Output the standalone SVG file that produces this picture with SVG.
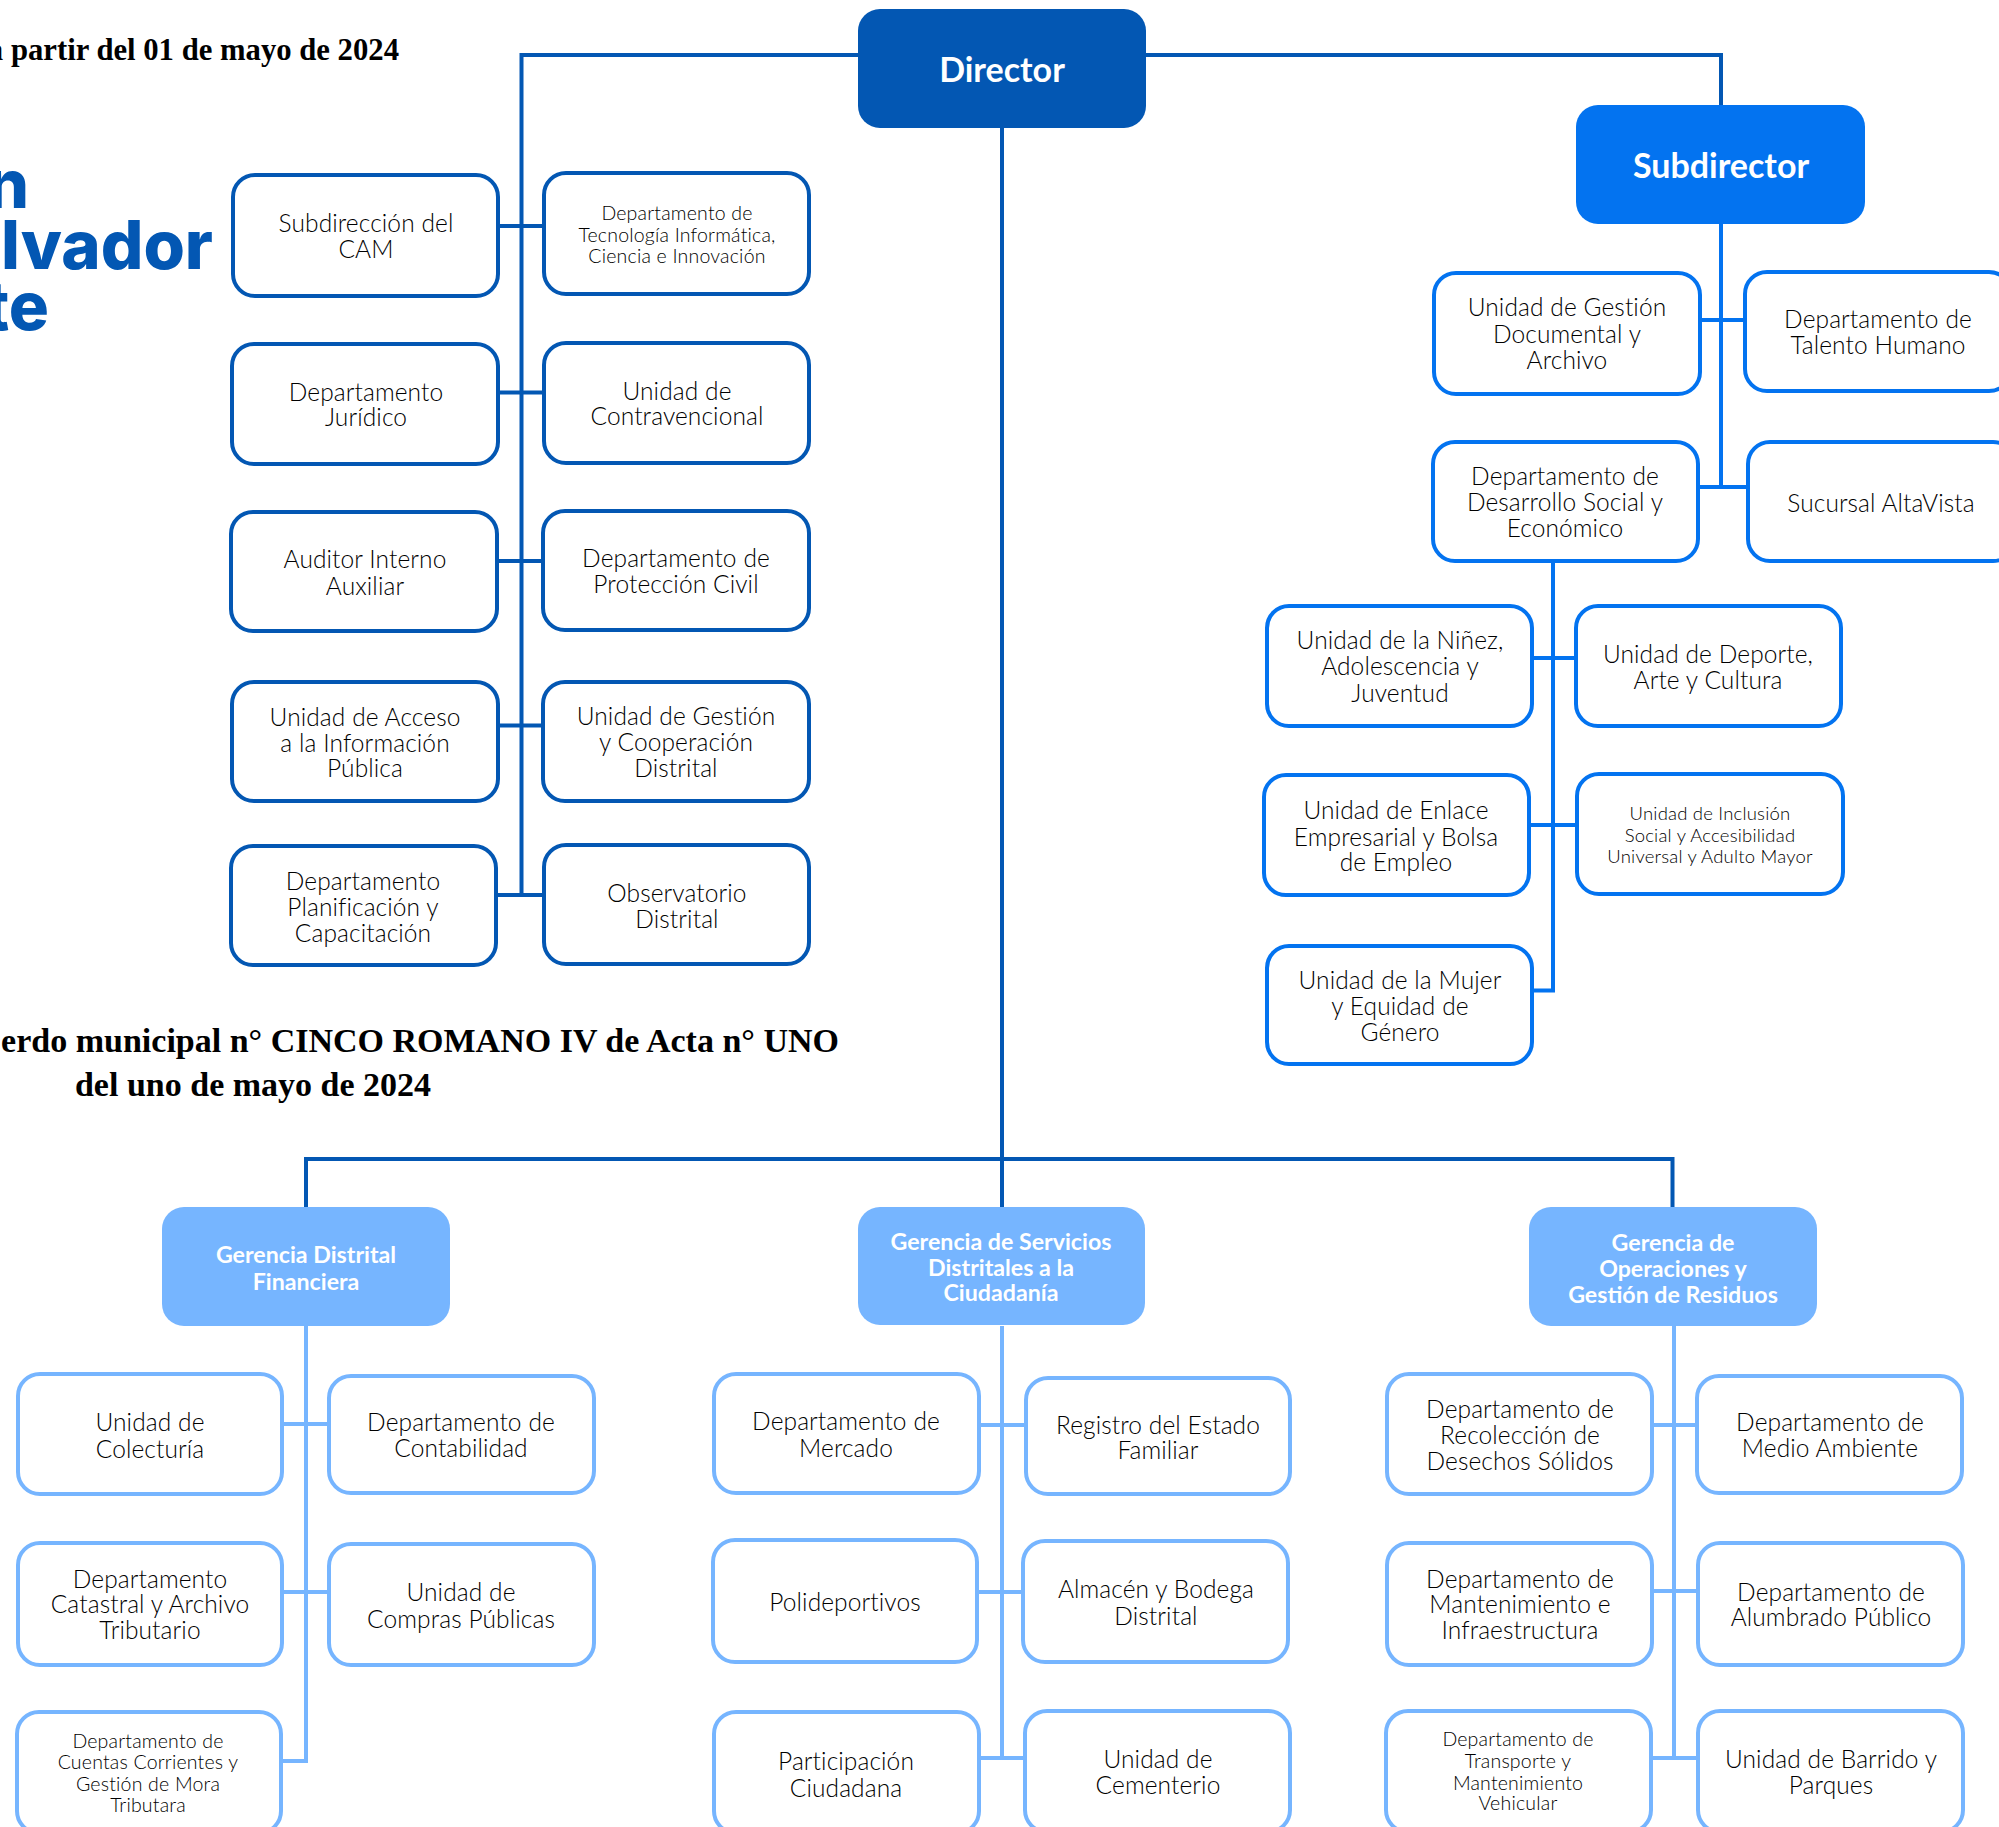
<svg xmlns="http://www.w3.org/2000/svg" width="1999" height="1827" viewBox="0 0 1999 1827">
<style>
text{font-family:"Lato","Noto Sans",sans-serif;text-anchor:middle;fill:#000;font-size:24.5px;font-weight:300;letter-spacing:.1px;transform:translateY(1px)}
.s{font-size:19.5px;letter-spacing:.2px}
.xs{font-size:18.5px}
.hd{font-family:"Liberation Serif",serif;font-weight:700;fill:#000;font-size:30.7px;letter-spacing:0}
.hd2{font-size:34px}
.logo{font-family:"Inter",sans-serif;font-weight:800;fill:#0357b3;font-size:67px;text-anchor:end;letter-spacing:0}
.w{fill:#fff;font-weight:700;letter-spacing:0}
.big{font-size:34px}
.g{font-size:23.2px}
.n{fill:#fff;stroke-width:4}
.d rect{stroke:#0357b3}
.b rect{stroke:#0373f0}
.l rect{stroke:#76b5ff}
.r{rx:22px;ry:22px}
#connectors path{fill:none;stroke-width:4}
</style>
<rect width="1999" height="1827" fill="#fff"/>
<text class="hd" x="399" y="59" style="text-anchor:end">a partir del 01 de mayo de 2024</text>
<text class="logo" x="29" y="207">n</text>
<text class="logo" x="213" y="268">lvador</text>
<text class="logo" x="49" y="329">te</text>
<text class="hd hd2" x="839" y="1051" style="text-anchor:end">erdo municipal n° CINCO ROMANO IV de Acta n° UNO</text>
<text class="hd hd2" x="253" y="1095">del uno de mayo de 2024</text>
<g id="connectors">
<path stroke="#0357b3" d="M858 55H521.5V895M1146 55H1721V105M1002 128V1208M306 1208V1159H1672.5V1208M498 226H544M498 392.500H544M497 561H543M497 725.500H543M496 895H544"/>
<path stroke="#0373f0" d="M1721 224V487M1700 320H1745M1698 487H1748M1553 561V990.500H1532M1532 658H1576M1529 825H1577"/>
<path stroke="#76b5ff" d="M306 1326V1761H281M282 1424H329M282 1592H329M1002 1326V1758M979 1425H1026M977 1592H1023M979 1758H1025M1674 1326V1758M1652 1425H1697M1652 1591H1698M1651 1758H1698"/>
</g>
<g id="director"><rect class="r" x="858" y="9" width="288" height="119" fill="#0357b3"/><text class="w big" x="1002" y="81">Director</text></g>
<g id="subdirector"><rect class="r" x="1576" y="105" width="289" height="119" fill="#0373f0"/><text class="w big" x="1721" y="177">Subdirector</text></g>
<g id="ger-financiera"><rect class="r" x="162" y="1207" width="288" height="119" fill="#76b5ff"/><text class="w g" x="306"><tspan x="306" y="1262">Gerencia Distrital</tspan><tspan x="306" y="1289">Financiera</tspan></text></g>
<g id="ger-servicios"><rect class="r" x="858" y="1207" width="287" height="118" fill="#76b5ff"/><text class="w g"><tspan x="1001" y="1249">Gerencia de Servicios</tspan><tspan x="1001" y="1275">Distritales a la</tspan><tspan x="1001" y="1300">Ciudadanía</tspan></text></g>
<g id="ger-operaciones"><rect class="r" x="1529" y="1207" width="288" height="119" fill="#76b5ff"/><text class="w g"><tspan x="1673" y="1250">Gerencia de</tspan><tspan x="1673" y="1276">Operaciones y</tspan><tspan x="1673" y="1302">Gestión de Residuos</tspan></text></g>
<g class="d">
<g id="n-subcam"><rect class="n r" x="233" y="175" width="265" height="121"/><text><tspan x="366" y="231">Subdirección del</tspan><tspan x="366" y="257">CAM</tspan></text></g>
<g id="n-tecnologia"><rect class="n r" x="544" y="173" width="265" height="121"/><text class="s"><tspan x="677" y="219">Departamento de</tspan><tspan x="677" y="241">Tecnología Informática,</tspan><tspan x="677" y="262">Ciencia e Innovación</tspan></text></g>
<g id="n-juridico"><rect class="n r" x="232" y="344" width="266" height="120"/><text><tspan x="366" y="400">Departamento</tspan><tspan x="366" y="425">Jurídico</tspan></text></g>
<g id="n-contra"><rect class="n r" x="544" y="343" width="265" height="120"/><text><tspan x="677" y="399">Unidad de</tspan><tspan x="677" y="424">Contravencional</tspan></text></g>
<g id="n-auditor"><rect class="n r" x="231" y="512" width="266" height="119"/><text><tspan x="365" y="567">Auditor Interno</tspan><tspan x="365" y="594">Auxiliar</tspan></text></g>
<g id="n-proteccion"><rect class="n r" x="543" y="511" width="266" height="119"/><text><tspan x="676" y="566">Departamento de</tspan><tspan x="676" y="592">Protección Civil</tspan></text></g>
<g id="n-acceso"><rect class="n r" x="232" y="682" width="266" height="119"/><text><tspan x="365" y="725">Unidad de Acceso</tspan><tspan x="365" y="751">a la Información</tspan><tspan x="365" y="776">Pública</tspan></text></g>
<g id="n-cooperacion"><rect class="n r" x="543" y="682" width="266" height="119"/><text><tspan x="676" y="724">Unidad de Gestión</tspan><tspan x="676" y="750">y Cooperación</tspan><tspan x="676" y="776">Distrital</tspan></text></g>
<g id="n-planificacion"><rect class="n r" x="231" y="846" width="265" height="119"/><text><tspan x="363" y="889">Departamento</tspan><tspan x="363" y="915">Planificación y</tspan><tspan x="363" y="941">Capacitación</tspan></text></g>
<g id="n-observatorio"><rect class="n r" x="544" y="845" width="265" height="119"/><text><tspan x="677" y="901">Observatorio</tspan><tspan x="677" y="927">Distrital</tspan></text></g>
</g>
<g class="b">
<g id="n-documental"><rect class="n r" x="1434" y="273" width="266" height="121"/><text><tspan x="1567" y="315">Unidad de Gestión</tspan><tspan x="1567" y="342">Documental y</tspan><tspan x="1567" y="368">Archivo</tspan></text></g>
<g id="n-talento"><rect class="n r" x="1745" y="272" width="266" height="119"/><text><tspan x="1878" y="327">Departamento de</tspan><tspan x="1878" y="353">Talento Humano</tspan></text></g>
<g id="n-desarrollo"><rect class="n r" x="1433" y="442" width="265" height="119"/><text><tspan x="1565" y="484">Departamento de</tspan><tspan x="1565" y="510">Desarrollo Social y</tspan><tspan x="1565" y="536">Económico</tspan></text></g>
<g id="n-sucursal"><rect class="n r" x="1748" y="442" width="267" height="119"/><text><tspan x="1881" y="511">Sucursal AltaVista</tspan></text></g>
<g id="n-ninez"><rect class="n r" x="1267" y="606" width="265" height="120"/><text><tspan x="1400" y="648">Unidad de la Niñez,</tspan><tspan x="1400" y="674">Adolescencia y</tspan><tspan x="1400" y="701">Juventud</tspan></text></g>
<g id="n-deporte"><rect class="n r" x="1576" y="606" width="265" height="120"/><text><tspan x="1708" y="662">Unidad de Deporte,</tspan><tspan x="1708" y="688">Arte y Cultura</tspan></text></g>
<g id="n-enlace"><rect class="n r" x="1264" y="775" width="265" height="120"/><text><tspan x="1396" y="818">Unidad de Enlace</tspan><tspan x="1396" y="845">Empresarial y Bolsa</tspan><tspan x="1396" y="870">de Empleo</tspan></text></g>
<g id="n-inclusion"><rect class="n r" x="1577" y="774" width="266" height="120"/><text class="s xs"><tspan x="1710" y="819">Unidad de Inclusión</tspan><tspan x="1710" y="841">Social y Accesibilidad</tspan><tspan x="1710" y="862">Universal y Adulto Mayor</tspan></text></g>
<g id="n-mujer"><rect class="n r" x="1267" y="946" width="265" height="118"/><text><tspan x="1400" y="988">Unidad de la Mujer</tspan><tspan x="1400" y="1014">y Equidad de</tspan><tspan x="1400" y="1040">Género</tspan></text></g>
</g>
<g class="l">
<g id="n-colecturia"><rect class="n r" x="18" y="1374" width="264" height="120"/><text><tspan x="150" y="1430">Unidad de</tspan><tspan x="150" y="1457">Colecturía</tspan></text></g>
<g id="n-contabilidad"><rect class="n r" x="329" y="1376" width="265" height="117"/><text><tspan x="461" y="1430">Departamento de</tspan><tspan x="461" y="1456">Contabilidad</tspan></text></g>
<g id="n-catastral"><rect class="n r" x="18" y="1543" width="264" height="122"/><text><tspan x="150" y="1587">Departamento</tspan><tspan x="150" y="1612">Catastral y Archivo</tspan><tspan x="150" y="1638">Tributario</tspan></text></g>
<g id="n-compras"><rect class="n r" x="329" y="1544" width="265" height="121"/><text><tspan x="461" y="1600">Unidad de</tspan><tspan x="461" y="1627">Compras Públicas</tspan></text></g>
<g id="n-cuentas"><rect class="n r" x="17" y="1712" width="264" height="121"/><text class="s"><tspan x="148" y="1747">Departamento de</tspan><tspan x="148" y="1768">Cuentas Corrientes y</tspan><tspan x="148" y="1790">Gestión de Mora</tspan><tspan x="148" y="1811">Tributara</tspan></text></g>
<g id="n-mercado"><rect class="n r" x="714" y="1374" width="265" height="119"/><text><tspan x="846" y="1429">Departamento de</tspan><tspan x="846" y="1456">Mercado</tspan></text></g>
<g id="n-registro"><rect class="n r" x="1026" y="1378" width="264" height="116"/><text><tspan x="1158" y="1433">Registro del Estado</tspan><tspan x="1158" y="1458">Familiar</tspan></text></g>
<g id="n-polideportivos"><rect class="n r" x="713" y="1540" width="264" height="122"/><text><tspan x="845" y="1610">Polideportivos</tspan></text></g>
<g id="n-almacen"><rect class="n r" x="1023" y="1541" width="265" height="121"/><text><tspan x="1156" y="1597">Almacén y Bodega</tspan><tspan x="1156" y="1624">Distrital</tspan></text></g>
<g id="n-participacion"><rect class="n r" x="714" y="1712" width="265" height="121"/><text><tspan x="846" y="1769">Participación</tspan><tspan x="846" y="1796">Ciudadana</tspan></text></g>
<g id="n-cementerio"><rect class="n r" x="1025" y="1711" width="265" height="121"/><text><tspan x="1158" y="1767">Unidad de</tspan><tspan x="1158" y="1793">Cementerio</tspan></text></g>
<g id="n-recoleccion"><rect class="n r" x="1387" y="1374" width="265" height="120"/><text><tspan x="1520" y="1417">Departamento de</tspan><tspan x="1520" y="1443">Recolección de</tspan><tspan x="1520" y="1469">Desechos Sólidos</tspan></text></g>
<g id="n-medio"><rect class="n r" x="1697" y="1376" width="265" height="117"/><text><tspan x="1830" y="1430">Departamento de</tspan><tspan x="1830" y="1456">Medio Ambiente</tspan></text></g>
<g id="n-mantenimiento"><rect class="n r" x="1387" y="1543" width="265" height="122"/><text><tspan x="1520" y="1587">Departamento de</tspan><tspan x="1520" y="1612">Mantenimiento e</tspan><tspan x="1520" y="1638">Infraestructura</tspan></text></g>
<g id="n-alumbrado"><rect class="n r" x="1698" y="1543" width="265" height="122"/><text><tspan x="1831" y="1600">Departamento de</tspan><tspan x="1831" y="1625">Alumbrado Público</tspan></text></g>
<g id="n-transporte"><rect class="n r" x="1386" y="1711" width="265" height="121"/><text class="s"><tspan x="1518" y="1745">Departamento de</tspan><tspan x="1518" y="1767">Transporte y</tspan><tspan x="1518" y="1789">Mantenimiento</tspan><tspan x="1518" y="1809">Vehicular</tspan></text></g>
<g id="n-barrido"><rect class="n r" x="1698" y="1711" width="265" height="121"/><text><tspan x="1831" y="1767">Unidad de Barrido y</tspan><tspan x="1831" y="1793">Parques</tspan></text></g>
</g>
</svg>
